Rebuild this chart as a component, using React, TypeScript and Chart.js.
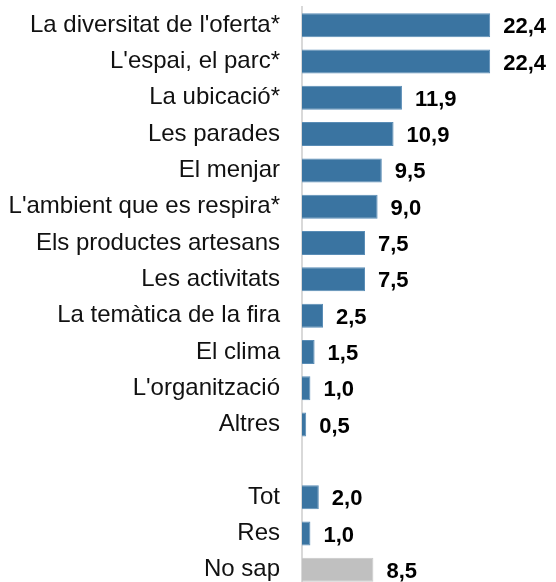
import React, { useEffect, useRef } from "react";
import { Chart, registerables } from "chart.js";

Chart.register(...registerables);

const categories = [
  "La diversitat de l'oferta*",
  "L'espai, el parc*",
  "La ubicació*",
  "Les parades",
  "El menjar",
  "L'ambient que es respira*",
  "Els productes artesans",
  "Les activitats",
  "La temàtica de la fira",
  "El clima",
  "L'organització",
  "Altres",
  "",
  "Tot",
  "Res",
  "No sap",
];
const values: (number | null)[] = [22.4, 22.4, 11.9, 10.9, 9.5, 9.0, 7.5, 7.5, 2.5, 1.5, 1.0, 0.5, null, 2.0, 1.0, 8.5];
const barColors = [
  "#3A74A1", "#3A74A1", "#3A74A1", "#3A74A1", "#3A74A1", "#3A74A1", "#3A74A1", "#3A74A1",
  "#3A74A1", "#3A74A1", "#3A74A1", "#3A74A1", "#3A74A1", "#3A74A1", "#3A74A1", "#C0C0C0",
];

const valueLabels = {
  id: "valueLabels",
  afterDatasetsDraw(chart: any) {
    const ctx = chart.ctx;
    const meta = chart.getDatasetMeta(0);
    ctx.save();
    ctx.font = "bold 22px 'Liberation Sans', Arial, sans-serif";
    ctx.fillStyle = "#000";
    ctx.textAlign = "left";
    ctx.textBaseline = "middle";
    meta.data.forEach((bar: any, i: number) => {
      const v = values[i];
      if (v === null || v === undefined) return;
      ctx.fillText(v.toFixed(1).replace(".", ","), bar.x + 13, bar.y + 2);
    });
    ctx.restore();
  },
};

export default function App() {
  const ref = useRef<HTMLCanvasElement>(null);
  useEffect(() => {
    const chart = new Chart(ref.current!, {
      type: "bar",
      data: {
        labels: categories,
        datasets: [
          {
            data: values,
            backgroundColor: barColors,
            borderColor: barColors.map((c) => (c === "#C0C0C0" ? "#C8C8C8" : "#5A8DB6")),
            borderWidth: 1,
            categoryPercentage: 1,
            barPercentage: 0.66,
          },
        ],
      },
      options: {
        indexAxis: "y",
        animation: false,
        responsive: false,
        maintainAspectRatio: false,
        layout: { padding: { top: 7, bottom: 2, right: 2, left: 0 } },
        plugins: { legend: { display: false }, tooltip: { enabled: false } },
        scales: {
          x: { display: false, min: 0, max: 30 },
          y: {
            grid: { display: false, drawTicks: false },
            border: { display: true, color: "#D9D9D9", width: 2 },
            ticks: {
              color: "#111",
              padding: 22,
              autoSkip: false,
              font: { family: "'Liberation Sans', Arial, sans-serif", size: 24 },
            },
            afterFit: (scale: any) => {
              scale.width = 302;
              scale.paddingTop = 0;
              scale.paddingBottom = 0;
            },
          },
        },
      },
      plugins: [valueLabels],
    });
    return () => chart.destroy();
  }, []);
  return (
    <div style={{ position: "fixed", left: 0, top: 0, width: 556, height: 582, overflow: "hidden", background: "#fff" }}>
      <canvas ref={ref} width={556} height={590} style={{ display: "block" }} />
    </div>
  );
}
